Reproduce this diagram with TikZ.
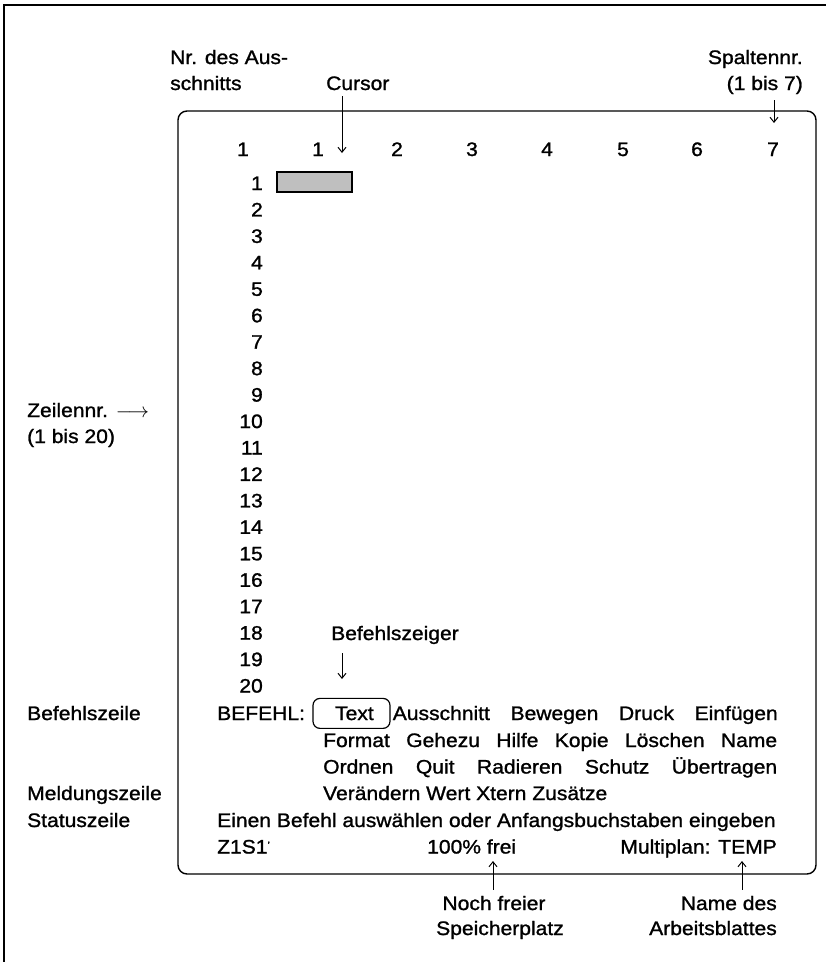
\documentclass[tikz,border=0pt]{standalone}
\usepackage{fontspec}
\setmainfont{Liberation Sans}[FakeStretch=1.08,FakeBold=1.2]
\usetikzlibrary{arrows.meta,positioning}
\tikzset{
  scrframe/.style={draw=black,line width=1.4pt,rounded corners=9pt},
  scrarrow/.style={-{Straight Barb[length=5pt,width=8pt]},line width=1pt},
  scrtext/.style={inner sep=0pt},
  scrcursor/.style={fill=black!25,draw=black,line width=1.2pt},
  every picture/.style={font=\fontsize{19.5}{26.5}\selectfont}
}

\begin{document}
\begin{tikzpicture}[x=1pt,y=-1pt]
  \useasboundingbox (0,0) rectangle (826,962);
  % page frame, cut off at the right and at the bottom
  \draw[line width=1.6pt] (4,962) -- (4,5) -- (826,5);
  % the screen
  \draw[scrframe] (178,111) rectangle (816,874);
  % labels above the screen
  \node[scrtext,anchor=base west] (nr1) at (170,64) {Nr. des Aus-};
  \node[scrtext,anchor=base west] (nr2) at (170,90) {schnitts};
  \node[scrtext,anchor=base west] (cursorlbl) at (326,90) {Cursor};
  \node[scrtext,anchor=base east] (spalte1) at (803,64) {Spaltennr.};
  \node[scrtext,anchor=base east] (spalte2) at (803,90) {(1 bis 7)};
  \coordinate (cursortop) at (342,96);
  \coordinate (cursortip) at (342,153);
  \draw[scrarrow] (cursortop) -- (cursortip);
  \coordinate (spaltetop) at (774,100);
  \coordinate (spaltetip) at (774,123);
  \draw[scrarrow] (spaltetop) -- (spaltetip);
  % window number and column numbers
  \foreach \x/\c [count=\i] in {243/1,318/1,397/2,472/3,547/4,623/5,697/6,773/7}
    \node[scrtext,anchor=base] (col\i) at (\x,156) {\c};
  % row numbers
  \foreach \r in {1,...,20}
    \node[scrtext,anchor=base east] (row\r) at (263,{190+26.45*(\r-1)}) {\r};
  \draw[scrcursor] (277,172) rectangle (352,192);
  % labels on the left
  \node[scrtext,anchor=base west] (zeile1) at (27,417) {Zeilennr. $\longrightarrow$};
  \node[scrtext,anchor=base west] (zeile2) at (27,443) {(1 bis 20)};
  \node[scrtext,anchor=base west] (befzeile) at (27,720) {Befehlszeile};
  \node[scrtext,anchor=base west] (meldzeile) at (27,800) {Meldungszeile};
  \node[scrtext,anchor=base west] (statzeile) at (27,827) {Statuszeile};
  % command pointer
  \node[scrtext,anchor=base west] (zeiger) at (331,640) {Befehlszeiger};
  \coordinate (zeigertop) at (342,653);
  \coordinate (zeigertip) at (342,679);
  \draw[scrarrow] (zeigertop) -- (zeigertip);
  % command menu
  \node[scrtext,anchor=base west] (befehl) at (217,720) {BEFEHL:};
  \node[draw,rounded corners=7pt,line width=1.2pt,minimum width=77pt,
    minimum height=30pt,inner sep=0pt,anchor=base] (textbox) at (351.5,720) {\ Text};
  \node[scrtext,anchor=base west] (menu1) at ([xshift=2pt]textbox.east |- befehl.base)
    {\makebox[385pt][s]{Ausschnitt Bewegen Druck Einfügen}};
  \node[scrtext,anchor=base west] (menu2) at (323,747)
    {\makebox[454pt][s]{Format Gehezu Hilfe Kopie Löschen Name}};
  \node[scrtext,anchor=base west] (menu3) at (323,773.5)
    {\makebox[454pt][s]{Ordnen Quit Radieren Schutz Übertragen}};
  \node[scrtext,anchor=base west] (menu4) at (323,800) {Verändern Wert Xtern Zusätze};
  \node[scrtext,anchor=base west] (meldung) at (217,827)
    {Einen Befehl auswählen oder Anfangsbuchstaben eingeben};
  % status line
  \node[scrtext,anchor=base west] (pos) at (217,853.5)
    {Z1S1\raisebox{5pt}{\fontsize{10}{10}\selectfont'}};
  \node[scrtext,anchor=base west] (frei) at (427,853.5) {100\% frei};
  \node[scrtext,anchor=base east] (blatt) at (777,853.5) {Multiplan: TEMP};
  % labels below the screen
  \coordinate (freitip) at (493,861);
  \coordinate (blatttip) at (742,861);
  \node[scrtext,anchor=base] (noch1) at (494,910) {Noch freier};
  \node[scrtext,anchor=base] (noch2) at (500,935) {Speicherplatz};
  \node[scrtext,anchor=base east] (name1) at (777,910) {Name des};
  \node[scrtext,anchor=base east] (name2) at (777,935) {Arbeitsblattes};
  \draw[scrarrow] (noch1.north -| freitip) ++(0,-6) -- (freitip);
  \draw[scrarrow] (name1.north -| blatttip) ++(0,-6) -- (blatttip);
\end{tikzpicture}
\end{document}
